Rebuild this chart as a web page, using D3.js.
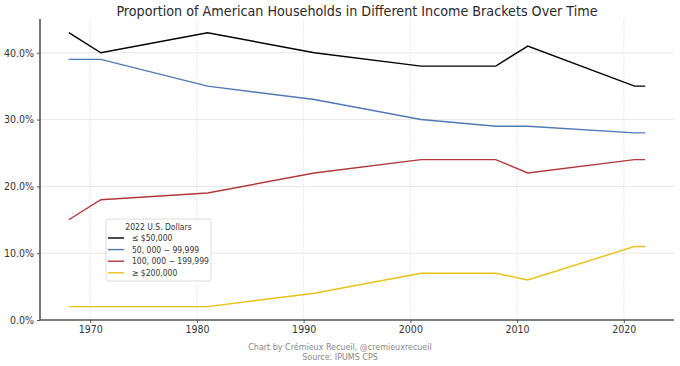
<!DOCTYPE html>
<html>
<head>
<meta charset="utf-8">
<script src="https://cdn.jsdelivr.net/npm/d3@7"></script>
<style>
  body { margin: 0; background: #fff; }
  text { font-family: "DejaVu Sans Condensed", "DejaVu Sans", sans-serif; }
</style>
</head>
<body>
<svg width="680" height="366"></svg>
<script>
const years = [1968, 1971, 1981, 1991, 2001, 2008, 2011, 2021, 2022]
const under50k = [43, 40, 43, 40, 38, 38, 41, 35, 35]
const from50to100k = [39, 39, 35, 33, 30, 29, 29, 28, 28]
const from100to200k = [15, 18, 19, 22, 24, 24, 22, 24, 24]
const over200k = [2, 2, 2, 4, 7, 7, 6, 11, 11]
const seriesNames = ['≤ $50,000', '50, 000 − 99,999', '100, 000 − 199,999', '≥ $200,000']
const seriesColors = ['#000000', '#4f79b4', '#b2383a', '#e8c114']
const xTicks = [1970, 1980, 1990, 2000, 2010, 2020]
const yTicks = [0, 10, 20, 30, 40]

const series = [under50k, from50to100k, from100to200k, over200k].map((vals, i) => ({
    name: seriesNames[i],
    color: seriesColors[i],
    points: vals.map((v, j) => ({year: years[j], value: v}))
}))

const svg = d3.select('svg')
const margin = {left: 40, right: 6, top: 19, bottom: 46}
const width = 680, height = 366

const x = d3.scaleLinear()
    .domain([1965.3, 2024.7])
    .range([margin.left, width - margin.right])
const y = d3.scaleLinear()
    .domain([0, 45.05])
    .range([height - margin.bottom, margin.top])

// grid
svg.append('g')
    .selectAll('line')
    .data(xTicks)
    .enter()
    .append('line')
    .attr('x1', d => x(d)).attr('x2', d => x(d))
    .attr('y1', margin.top).attr('y2', y(0))
    .attr('stroke', '#d8d8d8')
    .attr('stroke-dasharray', '1.5,1.5')
    .attr('stroke-width', 0.8)
svg.append('g')
    .selectAll('line')
    .data(yTicks.slice(1))
    .enter()
    .append('line')
    .attr('x1', margin.left).attr('x2', width - margin.right)
    .attr('y1', d => y(d)).attr('y2', d => y(d))
    .attr('stroke', '#e2e2e2')
    .attr('stroke-width', 0.8)

// axes
const xAxis = svg.append('g')
    .attr('transform', `translate(0,${y(0)})`)
    .call(d3.axisBottom(x).tickValues(xTicks).tickFormat(d3.format('d')).tickSize(3).tickPadding(3))
const yAxis = svg.append('g')
    .attr('transform', `translate(${margin.left},0)`)
    .call(d3.axisLeft(y).tickValues(yTicks).tickFormat(d => d.toFixed(1) + '%').tickSize(3).tickPadding(3))

;[xAxis, yAxis].forEach(g => {
    g.select('.domain').attr('stroke', '#555').attr('stroke-width', 1.6)
    g.selectAll('.tick line').attr('stroke', '#555')
    g.selectAll('.tick text').attr('fill', '#333').style('font-size', '10.5px')
})
yAxis.select('.domain').attr('d', `M0,${margin.top}V${y(0)}`)
xAxis.select('.domain').attr('d', `M${margin.left},0H${width - margin.right}`)

// lines
const line = d3.line()
    .x(d => x(d.year))
    .y(d => y(d.value))
svg.append('g')
    .selectAll('path')
    .data(series)
    .enter()
    .append('path')
    .attr('d', d => line(d.points))
    .attr('fill', 'none')
    .attr('stroke', d => d.color)
    .attr('stroke-width', 1.4)

// title
svg.append('text')
    .attr('x', 357).attr('y', 16)
    .attr('text-anchor', 'middle')
    .style('font-size', '14.2px')
    .attr('fill', '#2a2a2a')
    .text('Proportion of American Households in Different Income Brackets Over Time')

// legend
const legend = svg.append('g').attr('transform', 'translate(106,219)')
legend.append('rect')
    .attr('width', 105).attr('height', 62)
    .attr('rx', 2)
    .attr('fill', 'rgba(255,255,255,0.85)')
    .attr('stroke', '#dcdcdc')
legend.append('text')
    .attr('x', 52.5).attr('y', 10.5)
    .attr('text-anchor', 'middle')
    .style('font-size', '8.5px')
    .attr('fill', '#333')
    .text('2022 U.S. Dollars')
const items = legend.selectAll('.item')
    .data(series)
    .enter()
    .append('g')
    .attr('transform', (d, i) => `translate(2,${19 + i * 11.6})`)
items.append('line')
    .attr('x1', 0).attr('x2', 16)
    .attr('stroke', d => d.color)
    .attr('stroke-width', 1.4)
items.append('text')
    .attr('x', 24).attr('y', 3)
    .style('font-size', '8.5px')
    .attr('fill', '#333')
    .text(d => d.name)

// footer
svg.append('text')
    .attr('x', 340).attr('y', 350)
    .attr('text-anchor', 'middle')
    .style('font-size', '8.9px')
    .attr('fill', '#888')
    .text('Chart by Crémieux Recueil, @cremieuxrecueil')
svg.append('text')
    .attr('x', 340).attr('y', 359.5)
    .attr('text-anchor', 'middle')
    .style('font-size', '8.9px')
    .attr('fill', '#888')
    .text('Source: IPUMS CPS')
</script>
</body>
</html>
